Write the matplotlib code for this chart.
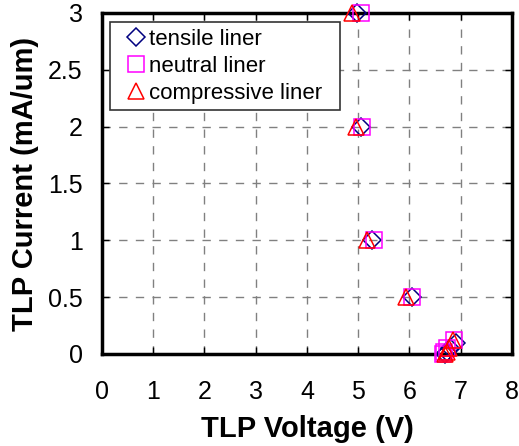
import numpy as np
import matplotlib as mpl
mpl.use("Agg")
from matplotlib import pyplot as plt
from matplotlib.lines import Line2D
from matplotlib.legend_handler import HandlerLine2D

plt.rcParams['font.family'] = ['Liberation Sans', 'DejaVu Sans']

# TLP I-V data
tensile_v = [4.97, 5.05, 5.27, 6.04, 6.70, 6.74, 6.80, 6.90]
tensile_i = [3.0, 2.0, 1.0, 0.5, 0.0, 0.02, 0.05, 0.1]
neutral_v = [5.06, 5.08, 5.30, 6.05, 6.65, 6.68, 6.74, 6.86]
neutral_i = [3.0, 2.0, 1.0, 0.5, 0.0, 0.02, 0.05, 0.12]
compr_v = [4.88, 4.96, 5.17, 5.94, 6.70, 6.73, 6.78, 6.85]
compr_i = [3.0, 2.0, 1.0, 0.5, 0.0, 0.02, 0.05, 0.12]

xticks = [0, 1, 2, 3, 4, 5, 6, 7, 8]
yticks = [0, 0.5, 1, 1.5, 2, 2.5, 3]
yticklabels = ["0", "0.5", "1", "1.5", "2", "2.5", "3"]

fig = plt.figure(figsize=(5.19, 4.46), dpi=100)
ax = fig.add_axes([0.1965, 0.2063, 0.79, 0.7646])

ax.plot(tensile_v, tensile_i, "D", ms=8.7, mfc="none", mec="#000080", mew=1.1,
        label="tensile liner", clip_on=False, zorder=3)
ax.plot(neutral_v, neutral_i, "s", ms=11.5, mfc="none", mec="#ff00ff", mew=1.1,
        label="neutral liner", clip_on=False, zorder=3)
ax.plot(compr_v, compr_i, "^", ms=12, mfc="none", mec="#ff0000", mew=1.1,
        label="compressive liner", clip_on=False, zorder=3)

ax.set_xlim(0, 8)
ax.set_ylim(0, 3)
ax.set_xticks(xticks)
ax.set_yticks(yticks)
ax.set_yticklabels(yticklabels)
ax.grid(True, color="#808080", linestyle=(0, (6, 6)), linewidth=1.0)
ax.set_axisbelow(True)

for s in ax.spines.values():
    s.set_linewidth(2.5)
ax.tick_params(direction="in", length=5, width=1, top=True, right=True,
               labelsize=18)
ax.tick_params(axis="x", pad=19)
ax.tick_params(axis="y", pad=14)

ax.set_xlabel("TLP Voltage (V)", fontsize=21, fontweight="bold", labelpad=8)
ax.set_ylabel("TLP Current (mA/um)", fontsize=21, fontweight="bold", labelpad=6)

# legend markers sit close to the text, shifted right inside the handle box
leg = ax.legend(loc="upper left", bbox_to_anchor=(0.0195, 0.9736, 0.561, 0.0),
                mode="expand", fontsize=16,
                frameon=True, fancybox=False, edgecolor="#333333", framealpha=1,
                handletextpad=0.2, handlelength=1.26, borderpad=0.3,
                labelspacing=0.27, borderaxespad=0,
                handler_map={Line2D: HandlerLine2D(xpad=0.45)})
leg.get_frame().set_linewidth(1.2)

plt.savefig("out.png", dpi=100)
